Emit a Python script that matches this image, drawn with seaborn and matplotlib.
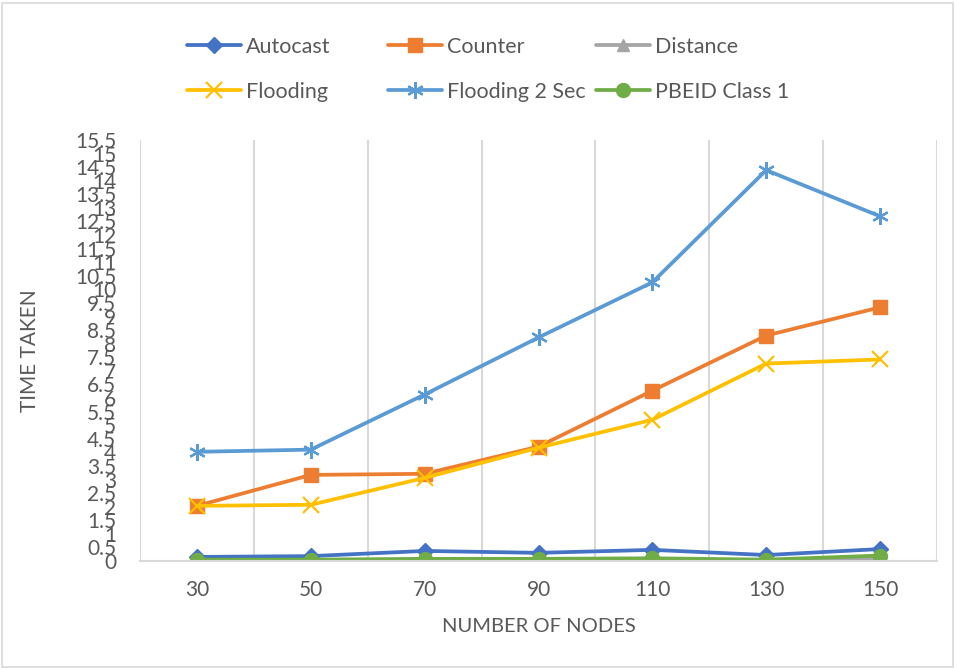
import numpy as np
import pandas as pd
import matplotlib
matplotlib.use("Agg")
import matplotlib.pyplot as plt
from matplotlib.lines import Line2D
from matplotlib.patches import Rectangle
import seaborn as sns

nodes = [30, 50, 70, 90, 110, 130, 150]
autocast = [0.15, 0.18, 0.37, 0.30, 0.41, 0.22, 0.44]
counter = [2.03, 3.17, 3.21, 4.21, 6.27, 8.30, 9.34]
distance = [0.02, 0.02, 0.05, 0.05, 0.05, 0.03, 0.10]
flooding = [2.03, 2.07, 3.06, 4.17, 5.20, 7.27, 7.42]
flooding_2sec = [4.02, 4.10, 6.13, 8.23, 10.26, 14.39, 12.69]
pbeid_class1 = [0.05, 0.05, 0.08, 0.08, 0.10, 0.05, 0.20]

series_names = ["Autocast", "Counter", "Distance", "Flooding", "Flooding 2 Sec", "PBEID Class 1"]
series_values = [autocast, counter, distance, flooding, flooding_2sec, pbeid_class1]
y_ticks = list(np.arange(0, 15.51, 0.5))

colors = ["#4472C4", "#ED7D31", "#A5A5A5", "#FFC000", "#5B9BD5", "#70AD47"]
markers = ["D", "s", "^", "x", (6, 2, 0), "o"]
msizes = [8, 10, 9, 11, 12, 10]
mews = [1, 1, 1, 1.6, 1.6, 1]

rows = []
for name, vals in zip(series_names, series_values):
    for i, v in enumerate(vals):
        rows.append({"series": name, "pos": i, "value": v})
df = pd.DataFrame(rows)

sns.set_theme(style="white")
plt.rcParams["font.family"] = ["Lato", "DejaVu Sans"]
text_color = "#595959"

fig = plt.figure(figsize=(9.55, 6.68), dpi=100)
ax = fig.add_axes([140 / 955, 1 - 561 / 668, 797 / 955, 421 / 668])

for name, c, m, ms, mw in zip(series_names, colors, markers, msizes, mews):
    sub = df[df["series"] == name]
    sns.lineplot(data=sub, x="pos", y="value", color=c, marker=m, markersize=ms,
                 markeredgecolor=c, markerfacecolor=c, markeredgewidth=mw,
                 linewidth=2.7, errorbar=None, legend=False, ax=ax)

ax.set_xlim(-0.5, 6.5)
ax.set_ylim(0, 15.5)
ax.set_xticks(range(len(nodes)))
ax.set_xticklabels([str(n) for n in nodes])
ax.set_xticks(np.arange(-0.5, 7, 1), minor=True)
ax.grid(False)
ax.grid(which="minor", axis="x", color="#D9D9D9", linewidth=1.5)
ax.set_yticks(y_ticks)
ax.set_yticklabels(["%g" % t for t in y_ticks])
ax.tick_params(axis="both", which="both", length=0, labelsize=15, labelcolor=text_color)
ax.tick_params(axis="x", pad=14)
ax.tick_params(axis="y", pad=17)
for s in ["left", "top", "right"]:
    ax.spines[s].set_visible(False)
ax.spines["bottom"].set_color("#D9D9D9")
ax.spines["bottom"].set_linewidth(1.5)

ax.set_xlabel("NUMBER OF NODES", fontsize=14.5, color=text_color)
ax.set_ylabel("TIME TAKEN", fontsize=15, color=text_color)
ax.xaxis.set_label_coords(0.5, -0.135)
ax.yaxis.set_label_coords(-0.126, 0.5)

# legend in three columns
col_x = [187, 388, 596]
for col in range(3):
    idxs = [col, col + 3]
    handles = [Line2D([], [], color=colors[i], marker=markers[i], markersize=msizes[i],
                      markeredgecolor=colors[i], markerfacecolor=colors[i],
                      markeredgewidth=mews[i], linewidth=2.7) for i in idxs]
    labels = [series_names[i] for i in idxs]
    fig.legend(handles, labels, loc="upper left",
               bbox_to_anchor=(col_x[col] / 955, 1 - 37 / 668),
               frameon=False, fontsize=15.5, handlelength=2.5, handletextpad=0.25,
               labelspacing=1.15, borderpad=0, borderaxespad=0, labelcolor=text_color)

fig.patches.append(Rectangle((1.5 / 955, 1.5 / 668), 951 / 955, 664 / 668,
                             transform=fig.transFigure, fill=False,
                             edgecolor="#D9D9D9", linewidth=1.2))

fig.savefig("out.png", dpi=100)
